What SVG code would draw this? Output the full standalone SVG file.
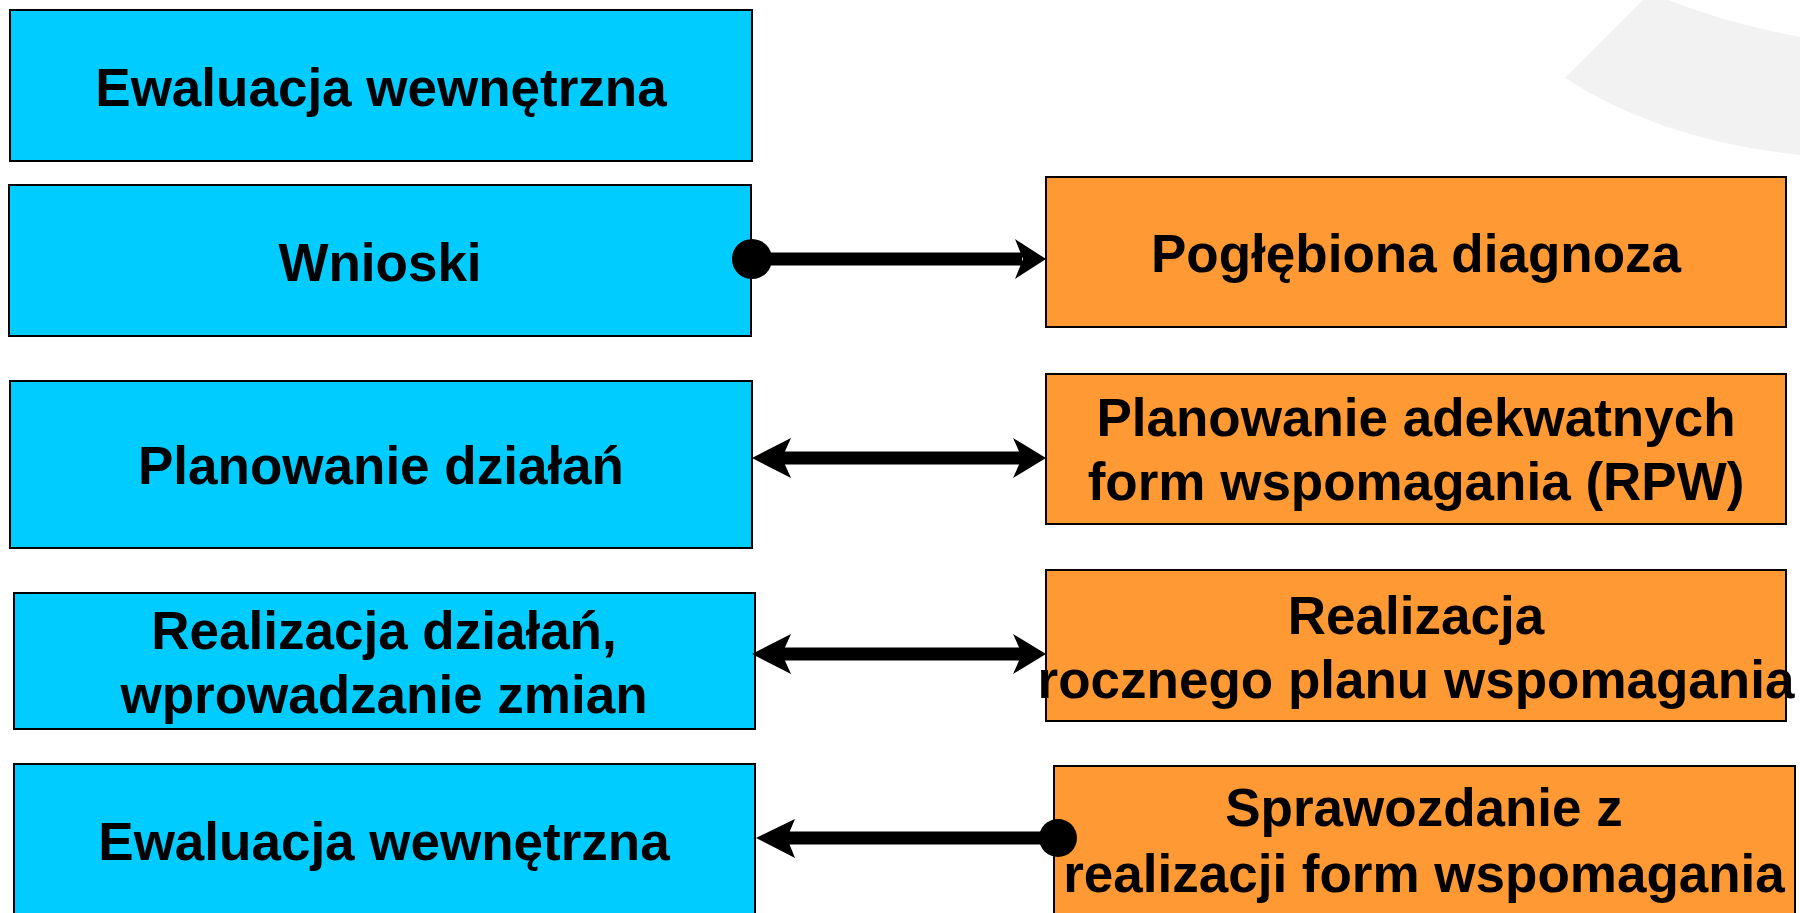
<svg xmlns="http://www.w3.org/2000/svg" width="1800" height="913" viewBox="0 0 1800 913">
<style>
.b{fill:#00CCFF;stroke:#000;stroke-width:2}
.o{fill:#FF9933;stroke:#000;stroke-width:2}
.t{font-family:"Liberation Sans",Arial,sans-serif;font-weight:bold;font-size:53px;fill:#000;text-anchor:middle}
.ln{stroke:#000;stroke-width:13;fill:none}
.ah{fill:#000}
</style>
<rect width="1800" height="913" fill="#fff"/>
<path d="M1565,78 L1643,0 L1668,0 Q1730,24 1800,37 L1800,155 Q1660,140 1565,78 Z" fill="#f2f2f2"/>
<g id="n1"><rect class="b" x="10" y="10" width="742" height="151"/><text class="t" x="381" y="106">Ewaluacja wewnętrzna</text></g>
<g id="n2"><rect class="b" x="9" y="185" width="742" height="151"/><text class="t" x="380" y="281">Wnioski</text></g>
<g id="n3"><rect class="b" x="10" y="381" width="742" height="167"/><text class="t" x="381" y="484">Planowanie działań</text></g>
<g id="n4"><rect class="b" x="14" y="593" width="741" height="136"/><text class="t" x="384" y="649">Realizacja działań,</text><text class="t" x="384" y="713">wprowadzanie zmian</text></g>
<g id="n5"><rect class="b" x="14" y="764" width="741" height="160"/><text class="t" x="384" y="860">Ewaluacja wewnętrzna</text></g>
<g id="o1"><rect class="o" x="1046" y="177" width="740" height="150"/><text class="t" x="1416" y="272">Pogłębiona diagnoza</text></g>
<g id="o2"><rect class="o" x="1046" y="374" width="740" height="150"/><text class="t" x="1416" y="436">Planowanie adekwatnych</text><text class="t" x="1416" y="500">form wspomagania (RPW)</text></g>
<g id="o3"><rect class="o" x="1046" y="570" width="740" height="151"/><text class="t" x="1416" y="634">Realizacja</text><text class="t" x="1416" y="698">rocznego planu wspomagania</text></g>
<g id="o4"><rect class="o" x="1054" y="766" width="741" height="160"/><text class="t" x="1424" y="826">Sprawozdanie z</text><text class="t" x="1424" y="892">realizacji form wspomagania</text></g>
<g id="connectors">
<line class="ln" x1="752" y1="259" x2="1022" y2="259"/>
<circle class="ah" cx="752" cy="259" r="20"/>
<polygon class="ah" points="1046,259 1015,239 1023,259 1015,279"/>
<line class="ln" x1="780" y1="458" x2="1022" y2="458"/>
<polygon class="ah" points="752,458 791,438 782,458 791,478"/>
<polygon class="ah" points="1046,458 1013,438 1022,458 1013,478"/>
<line class="ln" x1="780" y1="654" x2="1022" y2="654"/>
<polygon class="ah" points="752,654 791,634 782,654 791,674"/>
<polygon class="ah" points="1046,654 1013,634 1022,654 1013,674"/>
<line class="ln" x1="785" y1="838" x2="1058" y2="838"/>
<polygon class="ah" points="756,838 795,819 787,838 795,858"/>
<circle class="ah" cx="1058" cy="838" r="19"/>
</g>
</svg>
